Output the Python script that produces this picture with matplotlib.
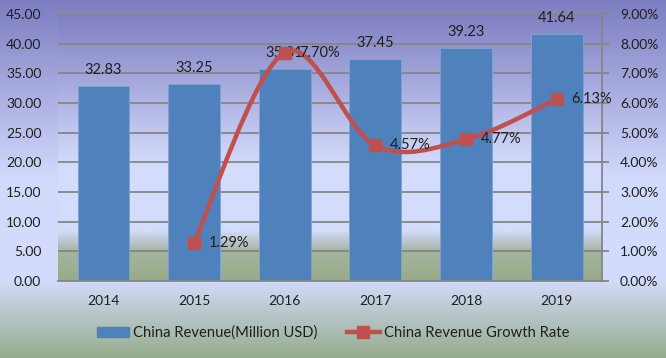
import numpy as np
import matplotlib
matplotlib.use("Agg")
import matplotlib.pyplot as plt
from matplotlib.path import Path
from matplotlib.patches import PathPatch, Patch
from matplotlib.lines import Line2D
from matplotlib.colors import LinearSegmentedColormap

years = ["2014", "2015", "2016", "2017", "2018", "2019"]
revenue = [32.83, 33.25, 35.81, 37.45, 39.23, 41.64]
growth_years = ["2015", "2016", "2017", "2018", "2019"]
growth = [1.29, 7.70, 4.57, 4.77, 6.13]
left_ticks = [0, 5, 10, 15, 20, 25, 30, 35, 40, 45]
right_ticks = [0, 1, 2, 3, 4, 5, 6, 7, 8, 9]
bar_label = "China Revenue(Million USD)"
line_label = "China Revenue Growth Rate"

plt.rcParams['font.family'] = ['Lato', 'DejaVu Sans']
FS = 10
TXT = '#1f1f1f'
BAR = '#4F81BD'
RED = '#C0504D'
GRID = '#868686'

fig = plt.figure(figsize=(6.66, 3.58), dpi=100)

def c(r, g, b):
    return (r / 255, g / 255, b / 255)

# figure background gradient
bg = fig.add_axes([0, 0, 1, 1], zorder=-10)
bg_cmap = LinearSegmentedColormap.from_list('bg', [
    (0.0, c(125, 125, 193)),
    (0.5, c(210, 218, 252)),
    (0.78, c(212, 220, 252)),
    (1.0, c(150, 172, 140))])
bg.imshow(np.linspace(0, 1, 256).reshape(-1, 1), aspect='auto', cmap=bg_cmap,
          extent=[0, 1, 0, 1], origin='upper')
bg.axis('off')

ax = fig.add_axes([0.0871, 0.2151, 0.9039 - 0.0871, 0.9609 - 0.2151])
ax.set_facecolor('none')
pa_cmap = LinearSegmentedColormap.from_list('pa', [
    (0.0, c(128, 128, 195)),
    (0.57, c(212, 220, 252)),
    (0.81, c(212, 220, 252)),
    (0.89, c(165, 180, 160)),
    (1.0, c(150, 172, 136))])

x = np.arange(len(years))
ax.set_xlim(-0.5, len(years) - 0.5)
ax.set_ylim(0, 45)
ax.imshow(np.linspace(0, 1, 256).reshape(-1, 1), aspect='auto', cmap=pa_cmap,
          extent=[-0.5, len(years) - 0.5, 0, 45], origin='upper', zorder=0)

ax.set_yticks(left_ticks)
ax.set_yticklabels([f"{v:.2f}" for v in left_ticks], fontsize=FS, color=TXT)
ax.yaxis.grid(True, color=GRID, linewidth=1.3, zorder=1)
ax.set_axisbelow(True)
ax.tick_params(axis='y', length=0, pad=12)
ax.set_xticks(x)
ax.set_xticklabels(years, fontsize=FS, color=TXT)
ax.tick_params(axis='x', length=0, pad=10)
for s in ['left', 'top', 'right']:
    ax.spines[s].set_visible(False)
ax.spines['bottom'].set_color(GRID)
ax.spines['bottom'].set_linewidth(1.3)

bars = ax.bar(x, revenue, width=0.57, color=BAR, edgecolor='#7FA3D3', linewidth=0.6, zorder=2)
for xi, v in zip(x, revenue):
    ax.annotate(f"{v:.2f}", (xi, v), xytext=(0, 11.5), textcoords='offset points',
                ha='center', va='center', fontsize=FS + 0.5, color=TXT, zorder=5)

ax2 = ax.twinx()
ax2.set_ylim(0, 9)
ax2.set_yticks(right_ticks)
ax2.set_yticklabels([f"{v:.2f}%" for v in right_ticks], fontsize=FS, color=TXT)
ax2.tick_params(axis='y', length=5, color=GRID, width=1.3, pad=8)
for s in ['left', 'top', 'bottom']:
    ax2.spines[s].set_visible(False)
ax2.spines['right'].set_color(GRID)
ax2.spines['right'].set_linewidth(1.3)

gx = np.array([years.index(y) for y in growth_years], dtype=float)
gy = np.array(growth, dtype=float)
pts = np.column_stack([gx, gy])
verts = [tuple(pts[0])]
codes = [Path.MOVETO]
n = len(pts)
for i in range(n - 1):
    p0 = pts[i - 1] if i > 0 else pts[i]
    p1 = pts[i]
    p2 = pts[i + 1]
    p3 = pts[i + 2] if i + 2 < n else pts[i + 1]
    c1 = p1 + (p2 - p0) / 6
    c2 = p2 - (p3 - p1) / 6
    verts += [tuple(c1), tuple(c2), tuple(p2)]
    codes += [Path.CURVE4] * 3
ax2.add_patch(PathPatch(Path(verts, codes), facecolor='none', edgecolor=RED,
                        linewidth=3.2, zorder=3, capstyle='round', joinstyle='round'))
ax2.plot(gx, gy, linestyle='none', marker='s', markersize=9, color=RED, zorder=4)
for xi, v in zip(gx, gy):
    ax2.annotate(f"{v:.2f}%", (xi, v), xytext=(10.5, 0), textcoords='offset points',
                 ha='left', va='center', fontsize=FS + 0.5, color=TXT, zorder=5)

handles = [Patch(facecolor=BAR, edgecolor=BAR),
           Line2D([0], [0], color=RED, linewidth=3.2, marker='s', markersize=9)]
fig.legend(handles, [bar_label, line_label], loc='center', bbox_to_anchor=(0.5, 0.07),
           ncol=2, frameon=False, fontsize=FS + 0.6, handlelength=2.2, handletextpad=0.3,
           columnspacing=2.0, labelcolor=TXT)

fig.savefig('out.png', dpi=100)
